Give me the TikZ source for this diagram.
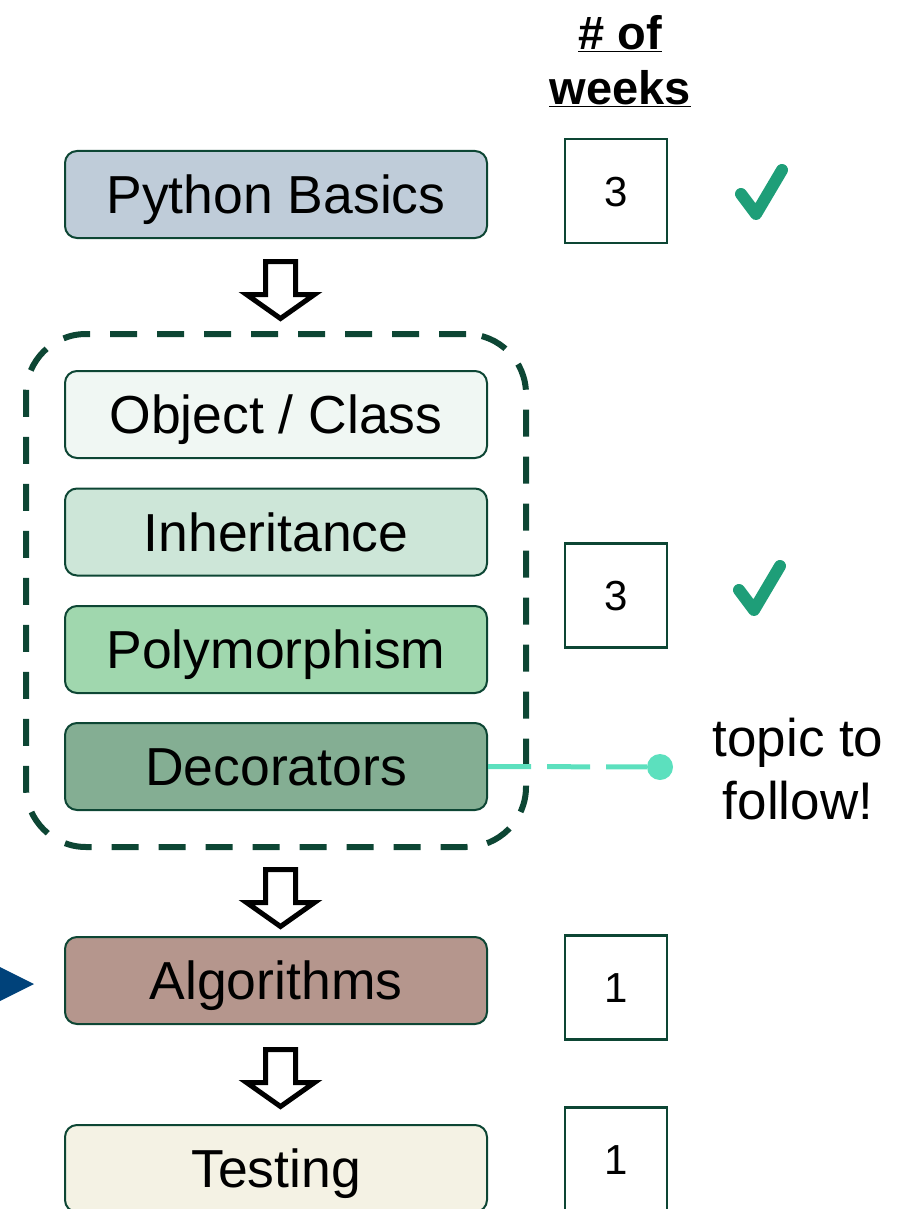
\documentclass[tikz,border=0pt]{standalone}
\usepackage{fontspec}
\setmainfont{Liberation Sans}
\usepackage{tikz}
\usetikzlibrary{positioning,fit}

\definecolor{edgegreen}{HTML}{0D4634}
\definecolor{basicsfill}{HTML}{BFCCD9}
\definecolor{objectfill}{HTML}{F0F7F3}
\definecolor{inheritfill}{HTML}{CDE6D8}
\definecolor{polyfill}{HTML}{A0D7AE}
\definecolor{decofill}{HTML}{84AE93}
\definecolor{algofill}{HTML}{B5968D}
\definecolor{testfill}{HTML}{F4F2E4}
\definecolor{followcol}{HTML}{5CE0BE}
\definecolor{tickcol}{HTML}{1E9E78}
\definecolor{pointercol}{HTML}{00427A}

\begin{document}
\begin{tikzpicture}[x=1pt,y=-1pt,
	topic/.style={draw=edgegreen, line width=2pt, rounded corners=12pt, minimum width=422pt, minimum height=87pt, inner sep=0pt, text height=38pt, text depth=0pt, font=\fontsize{53.5}{60}\selectfont},
	weeks/.style={draw=edgegreen, line width=2.5pt, minimum width=102pt, minimum height=104pt, inner sep=0pt, text height=30pt, text depth=0pt, font=\fontsize{42}{50}\selectfont},
	group/.style={draw=edgegreen, line width=6pt, dash pattern=on 27pt off 20pt, rounded corners=60pt, inner xsep=38pt, inner ysep=36pt},
	hollow/.style={draw=black, fill=white, line width=5pt, miter limit=10},
	tick/.style={draw=tickcol, line width=12pt, line cap=round, line join=round},
	follow/.style={draw=followcol, line width=5pt, dash pattern=on 43pt off 16pt}]
	\useasboundingbox (0,0) rectangle (909,1209);
	% topics
	\node[topic, fill=basicsfill] (basics) at (276,194.5) {Python Basics};
	\node[topic, fill=objectfill] (object) at (276,414.5) {Object / Class};
	\node[topic, fill=inheritfill] (inherit) at (276,532) {Inheritance};
	\node[topic, fill=polyfill] (poly) at (276,649.5) {Polymorphism};
	\node[topic, fill=decofill] (deco) at (276,766.5) {Decorators};
	\node[topic, fill=algofill] (algo) at (276,980.5) {Algorithms};
	\node[topic, fill=testfill] (testing) at (276,1168.5) {Testing};
	\node[group, fit=(object)(deco)] (oop) {};
	% down arrows
	\draw[hollow, shift={(280.5,259)}] (-15,2.5) -- (15,2.5) -- (15,35.5) -- (34,35.5)
	-- (0,59.5) -- (-34,35.5) -- (-15,35.5) -- cycle;
	\draw[hollow, shift={(280.5,867)}] (-15,2.5) -- (15,2.5) -- (15,35.5) -- (34,35.5)
	-- (0,59.5) -- (-34,35.5) -- (-15,35.5) -- cycle;
	\draw[hollow, shift={(280.5,1047)}] (-15,2.5) -- (15,2.5) -- (15,35.5) -- (34,35.5)
	-- (0,59.5) -- (-34,35.5) -- (-15,35.5) -- cycle;
	% weeks column
	\node[font=\bfseries\fontsize{47}{55}\selectfont, align=center] (header) at (620,61) {\underline{\# of}\\\underline{weeks}};
	\node[weeks] (wk_basics) at (616,191) {3};
	\node[weeks] (wk_oop) at (616,595.5) {3};
	\node[weeks] (wk_algo) at (616,987.5) {1};
	\node[weeks] (wk_test) at (616,1159.5) {1};
	\draw[tick] (741,194) -- (756,214) -- (782,170);
	\draw[tick] (739,590) -- (754,610) -- (780,566);
	% topic to follow
	\node[font=\fontsize{53}{63}\selectfont, align=center] (note) at (798,769) {topic to\\follow!};
	\node[circle, fill=followcol, minimum size=26pt, inner sep=0pt] (dot) at (660,767) {};
	\draw[follow] (deco.east) -- (dot);
	\coordinate (here) at (34,984);
	\fill[pointercol] (here) -- ++(-46,-23) -- ++(0,46) -- cycle;
\end{tikzpicture}
\end{document}
